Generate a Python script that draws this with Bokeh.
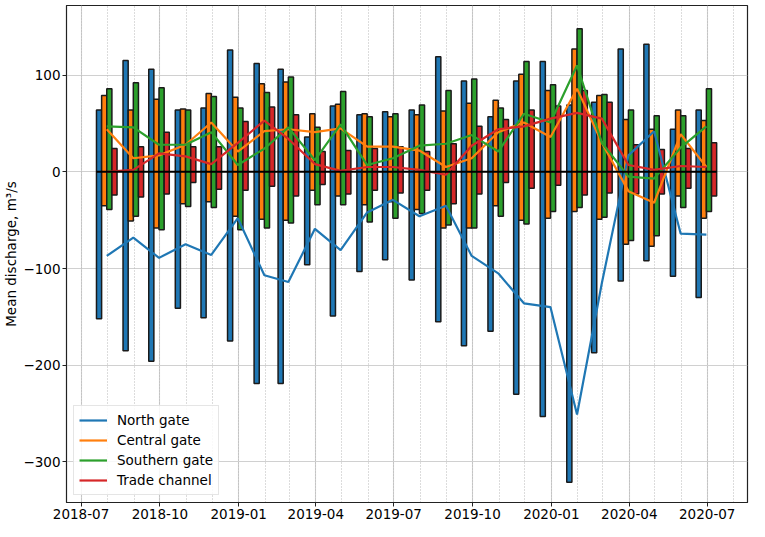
import numpy as np
import pandas as pd
from bokeh.plotting import figure
from bokeh.models import (Range1d, MonthsTicker, DatetimeTickFormatter, FixedTicker,
                          Grid, Legend, LegendItem, ColumnDataSource)
from bokeh.embed import file_html
from bokeh.resources import INLINE

# ---------------- data ----------------
months = ["2018-07", "2018-08", "2018-09", "2018-10", "2018-11", "2018-12",
          "2019-01", "2019-02", "2019-03", "2019-04", "2019-05", "2019-06",
          "2019-07", "2019-08", "2019-09", "2019-10", "2019-11", "2019-12",
          "2020-01", "2020-02", "2020-03", "2020-04", "2020-05", "2020-06"]

series_names = ["North gate", "Central gate", "Southern gate", "Trade channel"]
series_colors = ["#1f77b4", "#ff7f0e", "#2ca02c", "#d62728"]

north_max = [64, 115, 106, 64, 66, 126, 112, 106, 36, 68, 59, 62,
             64, 119, 94, 57, 94, 114, 69, 72, 127, 132, 44, 64]
north_min = [-152, -185, -196, -141, -151, -175, -219, -219, -96, -149, -103, -91,
             -112, -155, -180, -165, -230, -253, -321, -187, -113, -92, -108, -130]
north_mean = [-87, -68, -89, -75, -86, -48, -107, -114, -59, -81, -42, -29,
              -46, -35, -87, -105, -136, -140, -251, -115, 17, 42, -64, -65]

central_max = [79, 64, 75, 65, 81, 77, 91, 93, 60, 70, 60, 57,
               59, 63, 71, 74, 101, 84, 127, 79, 54, 44, 64, 53]
central_min = [-35, -51, -58, -33, -31, -46, -49, -50, -19, -25, -34, -31,
               -39, -58, -58, -35, -50, -48, -41, -49, -75, -77, -25, -48]
central_mean = [44, 14, 17, 28, 51, 21, 42, 44, 41, 45, 26, 26,
                22, 5, 14, 41, 51, 36, 86, 30, -20, -32, 39, 5]

southern_max = [86, 92, 87, 64, 78, 66, 82, 98, 46, 83, 57, 60,
                69, 84, 96, 66, 114, 90, 148, 80, 64, 58, 58, 86]
southern_min = [-39, -46, -60, -36, -37, -60, -58, -53, -34, -34, -52, -48,
                -43, -55, -58, -46, -54, -41, -37, -47, -71, -66, -37, -41]
southern_mean = [47, 46, 28, 28, 41, 7, 24, 46, 12, 49, 7, 14,
                 27, 29, 38, 21, 60, 51, 110, 30, -5, -7, 25, 47]

trade_max = [24, 26, 41, 26, 26, 52, 67, 59, 21, 22, 24, 26,
             21, 29, 47, 54, 64, 68, 84, 72, 28, 23, 24, 30]
trade_min = [-24, -26, -23, -11, -18, -19, -15, -25, -13, -23, -19, -22,
             -19, -33, -23, -11, -17, -14, -24, -22, -23, -23, -17, -25]
trade_mean = [0, 2, 19, 16, 8, 30, 53, 34, 8, 1, 5, 5,
              2, -3, 27, 44, 47, 55, 61, 55, 7, 2, 6, 5]

y_ticks = [-300, -200, -100, 0, 100]
y_tick_labels = ["\u2212300", "\u2212200", "\u2212100", "0", "100"]

maxes = [north_max, central_max, southern_max, trade_max]
mins = [north_min, central_min, southern_min, trade_min]
means = [north_mean, central_mean, southern_mean, trade_mean]

# ---------------- figure ----------------
dates = pd.to_datetime(months) + pd.offsets.MonthEnd(0)
DAY = pd.Timedelta(days=1)
bar_w = 6 * DAY
offsets = [-1.5, -0.5, 0.5, 1.5]

FONT = "DejaVu Sans"
FS = "13.5px"

p = figure(width=749, height=521, output_backend="svg", toolbar_location=None,
           x_axis_type="datetime",
           x_range=Range1d(dates[0] - 47 * DAY, dates[-1] + 48 * DAY),
           y_range=Range1d(-342, 172),
           min_border_top=5, min_border_right=2, min_border_left=0)
p.background_fill_color = "white"
p.outline_line_color = "#222222"
p.outline_line_width = 1.2

# grids (Bokeh months are 0-based: 0 = January)
p.xgrid.grid_line_color = "#d0d0d0"
p.xgrid.grid_line_width = 1.1
p.ygrid.grid_line_color = "#d0d0d0"
p.ygrid.grid_line_width = 1.1
minor_grid = Grid(dimension=0, ticker=MonthsTicker(months=list(range(12))),
                  grid_line_color="#b8b8b8", grid_line_dash="1 2", grid_line_width=1)
p.add_layout(minor_grid)

# axes
p.xaxis.ticker = MonthsTicker(months=[0, 3, 6, 9])
p.xaxis.formatter = DatetimeTickFormatter(days="%Y-%m", months="%Y-%m", years="%Y-%m")
p.yaxis.ticker = FixedTicker(ticks=y_ticks)
p.yaxis.major_label_overrides = {t: l for t, l in zip(y_ticks, y_tick_labels)}
p.yaxis.axis_label = "Mean discharge, m\u00b3/s"
for ax in (p.xaxis, p.yaxis):
    ax.major_label_text_font = FONT
    ax.major_label_text_font_size = FS
    ax.major_label_text_color = "black"
    ax.axis_label_text_font = FONT
    ax.axis_label_text_font_size = FS
    ax.axis_label_text_font_style = "normal"
    ax.axis_label_text_color = "black"
    ax.axis_line_color = "#222222"
    ax.major_tick_line_color = "#222222"
    ax.major_tick_out = 4
    ax.major_tick_in = 0
    ax.minor_tick_line_color = None
    ax.major_label_standoff = 2
p.yaxis.axis_label_standoff = 1

# bars (min to max range for each month)
for k in range(4):
    src = ColumnDataSource(dict(x=dates + offsets[k] * bar_w, top=maxes[k], bottom=mins[k]))
    p.vbar(x="x", width=bar_w, top="top", bottom="bottom", source=src,
           fill_color=series_colors[k], line_color="#1a1a1a", line_width=1.5)

# mean lines
line_renderers = []
for k in range(4):
    r = p.line(dates, means[k], line_color=series_colors[k], line_width=2.2)
    line_renderers.append(r)

# zero line across the bars
zx = [dates[0] + offsets[0] * bar_w - 0.5 * bar_w, dates[-1] + offsets[-1] * bar_w + 0.5 * bar_w]
p.line(zx, [0, 0], line_color="black", line_width=2)

legend = Legend(items=[LegendItem(label=n, renderers=[r]) for n, r in zip(series_names, line_renderers)],
                location="bottom_left")
legend.label_text_font = FONT
legend.label_text_font_size = FS
legend.label_text_color = "black"
legend.glyph_width = 28
legend.glyph_height = 18
legend.spacing = 2
legend.padding = 5
legend.margin = 7
legend.label_standoff = 10
legend.border_line_color = "#cccccc"
legend.border_line_width = 1
legend.background_fill_alpha = 0.85
p.add_layout(legend)

open("out.html", "w").write(file_html(p, INLINE))
